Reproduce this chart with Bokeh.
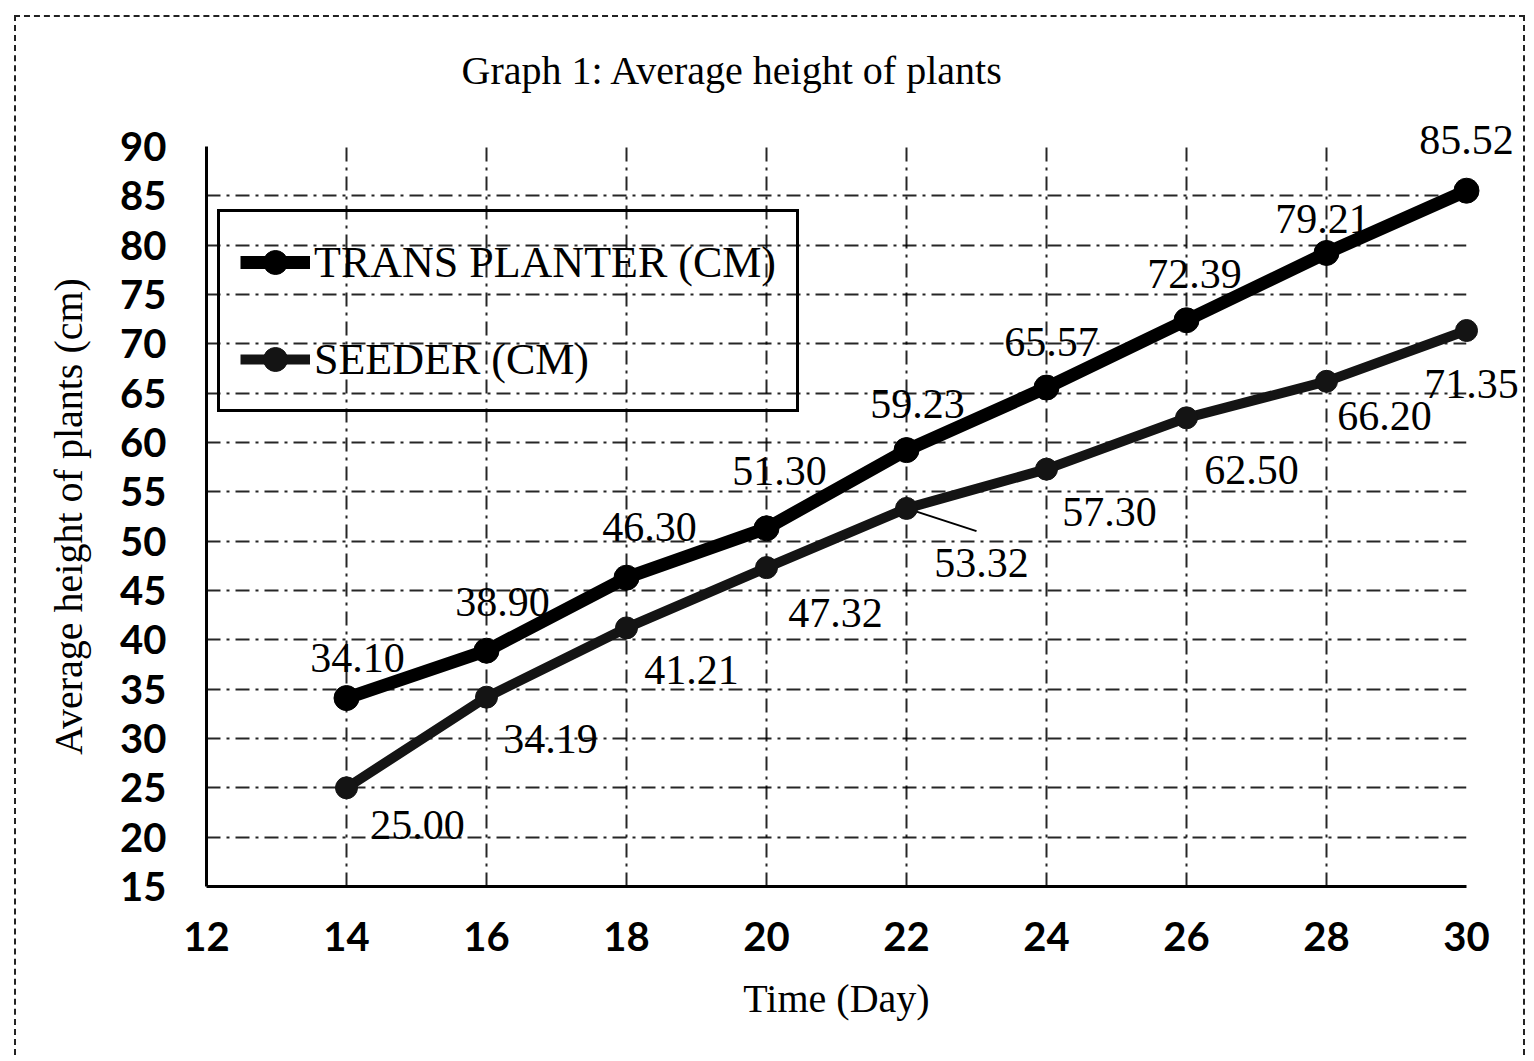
from bokeh.plotting import figure
from bokeh.models import Range1d, FixedTicker, Legend, LegendItem, ColumnDataSource, Title
from bokeh.core.properties import value
from bokeh.embed import file_html
from bokeh.resources import INLINE

# ---- data ----
days = [14, 16, 18, 20, 22, 24, 26, 28, 30]
trans_planter = [34.10, 38.90, 46.30, 51.30, 59.23, 65.57, 72.39, 79.21, 85.52]
seeder = [25.00, 34.19, 41.21, 47.32, 53.32, 57.30, 62.50, 66.20, 71.35]
x_ticks = [12, 14, 16, 18, 20, 22, 24, 26, 28, 30]
y_ticks = [15, 20, 25, 30, 35, 40, 45, 50, 55, 60, 65, 70, 75, 80, 85, 90]

# label offsets in screen px, downward positive (style only)
tp_dx = [11, 16, 23, 13, 11, 5, 8, -4, 0]
tp_dy = [-40, -49, -51, -57, -46, -46, -46, -34, -51]
sd_dx = [71, 64, 65, 69, 75, 63, 65, 58, 5]
sd_dy = [37, 42, 42, 45, 55, 43, 52, 35, 53]

SERIF = "Liberation Serif"
TICKFONT = "Lato"

p = figure(width=1511, height=1040,
           x_range=Range1d(12, 30), y_range=Range1d(15, 90),
           output_backend="svg", toolbar_location=None,
           min_border_left=190, min_border_right=61,
           min_border_top=129, min_border_bottom=171)
p.styles = {"border-top": "2px dashed #222", "border-left": "2px dashed #222",
            "border-right": "2px dashed #222", "margin-left": "14px", "margin-top": "15px"}

# spacer (nearest the frame), then the real title above it
p.add_layout(Title(text=" ", text_font=SERIF, text_font_size="40px", standoff=7), "above")
p.add_layout(Title(text="Graph 1: Average height of plants", text_font=SERIF,
                   text_font_size="40px", text_font_style="normal", text_color="black",
                   align="left", offset=255, standoff=0), "above")
p.outline_line_color = None

p.xaxis.ticker = FixedTicker(ticks=x_ticks)
p.yaxis.ticker = FixedTicker(ticks=y_ticks)
for ax in (p.xaxis, p.yaxis):
    ax.axis_line_color = "black"
    ax.axis_line_width = 3
    ax.major_tick_line_color = None
    ax.minor_tick_line_color = None
    ax.major_label_text_font = TICKFONT
    ax.major_label_text_font_style = "bold"
    ax.major_label_text_font_size = "40px"
    ax.major_label_text_color = "black"
    ax.axis_label_text_font = SERIF
    ax.axis_label_text_font_size = "40px"
    ax.axis_label_text_font_style = "normal"
    ax.axis_label_text_color = "black"
p.xaxis.axis_label = "Time (Day)"
p.yaxis.axis_label = "Average height of plants (cm)"
p.xaxis.major_label_standoff = 29
p.yaxis.major_label_standoff = 34
p.xaxis.axis_label_standoff = 22
p.yaxis.axis_label_standoff = 26

for g in (p.xgrid, p.ygrid):
    g.grid_line_color = "black"
    g.grid_line_width = 2
    g.grid_line_dash = "14 6 3 6"
    g.grid_line_alpha = 0.85

l1 = p.line(days, trans_planter, line_width=13, color="black", level="overlay")
s1 = p.scatter(days, trans_planter, size=25, color="black", level="overlay")
l2 = p.line(days, seeder, line_width=10, color="#141414", level="overlay")
s2 = p.scatter(days, seeder, size=22, color="#141414", level="overlay")

# leader line for the 53.32 label
p.segment(x0=[days[4]], y0=[seeder[4]], x1=[days[4] + 1.0], y1=[seeder[4] - 2.3],
          line_color="black", line_width=2)

src_tp = ColumnDataSource(dict(x=days, y=trans_planter,
                               t=[f"{v:.2f}" for v in trans_planter], dx=tp_dx, dy=tp_dy))
src_sd = ColumnDataSource(dict(x=days, y=seeder,
                               t=[f"{v:.2f}" for v in seeder], dx=sd_dx, dy=sd_dy))
for src in (src_tp, src_sd):
    p.text(x="x", y="y", text="t", x_offset="dx", y_offset="dy", source=src,
           text_align="center", text_baseline="middle", level="overlay",
           text_font=value(SERIF), text_font_size="42px", text_color="black")

legend = Legend(items=[LegendItem(label="TRANS PLANTER (CM)", renderers=[l1, s1]),
                       LegendItem(label="SEEDER (CM)", renderers=[l2, s2])],
                location=(11, 474))
legend.label_text_font = SERIF
legend.label_text_font_size = "44px"
legend.label_text_color = "black"
legend.glyph_width = 70
legend.glyph_height = 60
legend.label_height = 60
legend.label_standoff = 4
legend.spacing = 37
legend.padding = 20
legend.margin = 0
legend.border_line_color = "black"
legend.border_line_alpha = 1
legend.border_line_width = 3
legend.background_fill_alpha = 0
p.add_layout(legend)

open("out.html", "w").write(file_html(p, INLINE))
